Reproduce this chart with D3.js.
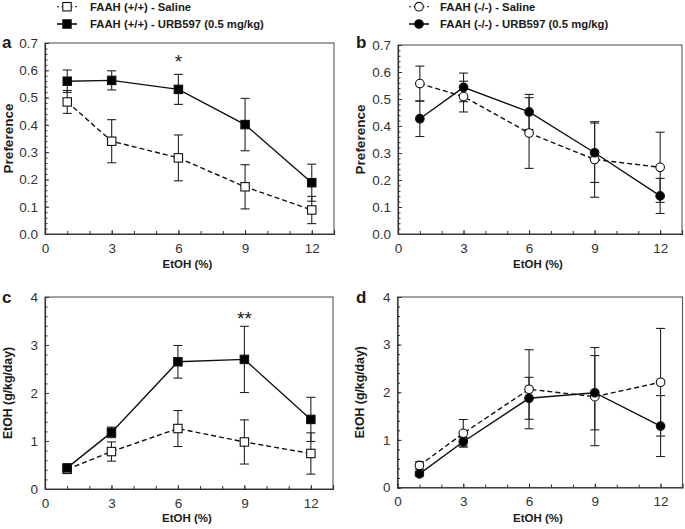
<!DOCTYPE html>
<html>
<head>
<meta charset="utf-8">
<script src="https://cdn.jsdelivr.net/npm/d3@7"></script>
<style>
  html, body { margin: 0; padding: 0; background: #fff; }
  svg { display: block; }
  text { font-family: "Liberation Sans", Arial, Helvetica, sans-serif; }
</style>
</head>
<body>
<svg id="chart" width="685" height="529"></svg>
<script>
// ---------------- data ----------------
const ethanolPct = [1, 3, 6, 9, 12];
const xTickLabels = [0, 3, 6, 9, 12];
const prefTickLabels = [0, 0.1, 0.2, 0.3, 0.4, 0.5, 0.6, 0.7];
const intakeTickLabels = [0, 1, 2, 3, 4];

// panel a: FAAH (+/+) preference
const prefWTSaline    = [0.484, 0.340, 0.279, 0.173, 0.088];
const prefWTSalineErr = [0.042, 0.079, 0.084, 0.081, 0.050];
const prefWTUrb       = [0.560, 0.563, 0.530, 0.401, 0.188];
const prefWTUrbErr    = [0.041, 0.035, 0.055, 0.096, 0.068];

// panel b: FAAH (-/-) preference
const prefKOSaline    = [0.557, 0.509, 0.374, 0.276, 0.247];
const prefKOSalineErr = [0.065, 0.057, 0.131, 0.140, 0.130];
const prefKOUrb       = [0.427, 0.543, 0.452, 0.301, 0.141];
const prefKOUrbErr    = [0.066, 0.053, 0.065, 0.110, 0.065];

// panel c: FAAH (+/+) intake (g/kg/day)
const intakeWTSaline    = [0.41, 0.78, 1.26, 0.98, 0.74];
const intakeWTSalineErr = [0.05, 0.20, 0.375, 0.46, 0.43];
const intakeWTUrb       = [0.44, 1.18, 2.65, 2.70, 1.45];
const intakeWTUrbErr    = [0.05, 0.11, 0.34, 0.69, 0.46];

// panel d: FAAH (-/-) intake (g/kg/day)
const intakeKOSaline    = [0.463, 1.137, 2.063, 1.908, 2.21];
const intakeKOSalineErr = [0.08, 0.29, 0.83, 1.03, 1.13];
const intakeKOUrb       = [0.287, 0.96, 1.873, 1.99, 1.29];
const intakeKOUrbErr    = [0.05, 0.09, 0.44, 0.78, 0.64];

const legendWT = ["FAAH (+/+) - Saline", "FAAH (+/+) - URB597 (0.5 mg/kg)"];
const legendKO = ["FAAH (-/-) - Saline", "FAAH (-/-) - URB597 (0.5 mg/kg)"];

const sigA = { x: 6, y: 0.644, label: "*" };
const sigC = { x: 9, y: 3.62, label: "**" };

// ---------------- drawing ----------------
const svg = d3.select("#chart");
const INK = "#1a1a1a";
const AXIS = "#333";

function zipSeries(vals, errs) {
  return ethanolPct.map((x, i) => ({ x, y: vals[i], e: errs[i] }));
}

function drawPanel(cfg) {
  const x = d3.scaleLinear().domain([0, 13]).range([cfg.left, cfg.right]);
  const y = d3.scaleLinear().domain(cfg.yDomain).range([cfg.bottom, cfg.top]);
  const g = svg.append("g");

  // frame
  g.append("rect")
    .attr("x", cfg.left).attr("y", cfg.top)
    .attr("width", cfg.right - cfg.left).attr("height", cfg.bottom - cfg.top)
    .attr("fill", "none").attr("stroke", "#555").attr("stroke-width", 1.1);

  // minor y ticks
  const yMinor = d3.range(cfg.yDomain[0], cfg.yDomain[1] + 1e-9, cfg.yMinorStep);
  g.append("g")
    .attr("transform", `translate(${cfg.left},0)`)
    .call(d3.axisLeft(y).tickValues(yMinor).tickSize(-2.5).tickFormat(""))
    .call(s => s.select(".domain").remove())
    .selectAll("line").attr("stroke", AXIS);

  // major y ticks
  const yAx = g.append("g")
    .attr("transform", `translate(${cfg.left},0)`)
    .call(d3.axisLeft(y).tickValues(cfg.yTicks).tickSize(-4).tickPadding(7)
      .tickFormat(cfg.yFormat));
  yAx.select(".domain").attr("stroke", AXIS).attr("stroke-width", 1.2);
  yAx.selectAll("line").attr("stroke", AXIS);
  yAx.selectAll("text").attr("font-size", 13.5).attr("fill", "#333")
    .attr("font-family", "Liberation Sans, Arial, sans-serif");

  // minor x ticks
  g.append("g")
    .attr("transform", `translate(0,${cfg.bottom})`)
    .call(d3.axisBottom(x).tickValues(d3.range(1, 13)).tickSize(-3).tickFormat(""))
    .call(s => s.select(".domain").remove())
    .selectAll("line").attr("stroke", AXIS);

  const xAx = g.append("g")
    .attr("transform", `translate(0,${cfg.bottom})`)
    .call(d3.axisBottom(x).tickValues(xTickLabels).tickSize(-4).tickPadding(9));
  xAx.select(".domain").attr("stroke", AXIS).attr("stroke-width", 1.2);
  xAx.selectAll("line").attr("stroke", AXIS);
  xAx.selectAll("text").attr("font-size", 13.5).attr("fill", "#333")
    .attr("font-family", "Liberation Sans, Arial, sans-serif");

  // axis titles
  g.append("text")
    .attr("x", (cfg.left + x(13)) / 2 - 2).attr("y", cfg.xTitleY)
    .attr("text-anchor", "middle").attr("font-size", 11.5).attr("font-weight", "bold")
    .attr("fill", INK).text("EtOH (%)");
  g.append("text")
    .attr("transform", `translate(${cfg.yTitleX},${(cfg.top + cfg.bottom) / 2}) rotate(-90)`)
    .attr("text-anchor", "middle").attr("dominant-baseline", "central")
    .attr("font-size", cfg.yTitleSize).attr("font-weight", "bold")
    .attr("fill", INK).text(cfg.yTitle);

  // panel letter
  g.append("text")
    .attr("x", cfg.letterX).attr("y", cfg.letterY)
    .attr("font-size", 17).attr("font-weight", "bold").attr("fill", INK)
    .text(cfg.letter);

  const line = d3.line().x(d => x(d.x)).y(d => y(d.y));

  cfg.series.forEach(s => {
    const data = s.data;
    // error bars
    const eb = g.append("g").attr("stroke", "#222").attr("stroke-width", 1.1);
    data.forEach(d => {
      eb.append("line").attr("x1", x(d.x)).attr("x2", x(d.x))
        .attr("y1", y(d.y - d.e)).attr("y2", y(d.y + d.e));
      [d.y - d.e, d.y + d.e].forEach(v => {
        eb.append("line").attr("x1", x(d.x) - 4.5).attr("x2", x(d.x) + 4.5)
          .attr("y1", y(v)).attr("y2", y(v));
      });
    });
    g.append("path").datum(data)
      .attr("d", line).attr("fill", "none").attr("stroke", "#111")
      .attr("stroke-width", 1.4)
      .attr("stroke-dasharray", s.dashed ? "5,3" : null);
  });

  cfg.series.forEach(s => {
    s.data.forEach(d => drawMarker(g, x(d.x), y(d.y), s.shape, s.filled));
  });

  if (cfg.sig) {
    g.append("text")
      .attr("x", x(cfg.sig.x)).attr("y", y(cfg.sig.y) + 10)
      .attr("text-anchor", "middle").attr("font-size", 19).attr("fill", INK)
      .text(cfg.sig.label);
  }
}

function drawMarker(g, cx, cy, shape, filled) {
  if (shape === "square") {
    g.append("rect").attr("x", cx - 4.2).attr("y", cy - 4.2)
      .attr("width", 8.4).attr("height", 8.4)
      .attr("fill", filled ? "#000" : "#fff").attr("stroke", "#111").attr("stroke-width", 1.1);
  } else {
    g.append("circle").attr("cx", cx).attr("cy", cy).attr("r", 4.3)
      .attr("fill", filled ? "#000" : "#fff").attr("stroke", "#111").attr("stroke-width", 1.1);
  }
}

function drawLegend(x0, textX, labels, shape) {
  const rows = [6.7, 24];
  rows.forEach((ry, i) => {
    const dashed = i === 0;
    svg.append("line").attr("x1", x0 - 10).attr("x2", x0 + 10)
      .attr("y1", ry).attr("y2", ry).attr("stroke", "#111")
      .attr("stroke-width", dashed ? 1.1 : 1.6)
      .attr("stroke-dasharray", dashed ? "2,2.5" : null);
    drawMarker(svg, x0, ry, shape, !dashed);
    svg.append("text").attr("x", textX).attr("y", ry)
      .attr("dominant-baseline", "central")
      .attr("font-size", 11.3).attr("font-weight", "bold").attr("fill", INK)
      .text(labels[i]);
  });
}

const prefFmt = d3.format(".1f");
const intFmt = d3.format("d");

drawPanel({
  letter: "a", letterX: 2, letterY: 48,
  left: 45, right: 334, top: 43, bottom: 234,
  yDomain: [0, 0.7], yTicks: prefTickLabels, yMinorStep: 0.02, yFormat: prefFmt,
  yTitle: "Preference", yTitleX: 8, yTitleSize: 13.5, xTitleY: 268,
  series: [
    { data: zipSeries(prefWTSaline, prefWTSalineErr), shape: "square", filled: false, dashed: true },
    { data: zipSeries(prefWTUrb, prefWTUrbErr), shape: "square", filled: true, dashed: false }
  ],
  sig: sigA
});

drawPanel({
  letter: "b", letterX: 356, letterY: 48,
  left: 398, right: 682, top: 45, bottom: 234,
  yDomain: [0, 0.7], yTicks: prefTickLabels, yMinorStep: 0.02, yFormat: prefFmt,
  yTitle: "Preference", yTitleX: 360, yTitleSize: 13.5, xTitleY: 268,
  series: [
    { data: zipSeries(prefKOSaline, prefKOSalineErr), shape: "circle", filled: false, dashed: true },
    { data: zipSeries(prefKOUrb, prefKOUrbErr), shape: "circle", filled: true, dashed: false }
  ]
});

drawPanel({
  letter: "c", letterX: 2, letterY: 303,
  left: 45, right: 333, top: 297, bottom: 489,
  yDomain: [0, 4], yTicks: intakeTickLabels, yMinorStep: 0.2, yFormat: intFmt,
  yTitle: "EtOH (g/kg/day)", yTitleX: 8, yTitleSize: 12.3, xTitleY: 522,
  series: [
    { data: zipSeries(intakeWTSaline, intakeWTSalineErr), shape: "square", filled: false, dashed: true },
    { data: zipSeries(intakeWTUrb, intakeWTUrbErr), shape: "square", filled: true, dashed: false }
  ],
  sig: sigC
});

drawPanel({
  letter: "d", letterX: 356, letterY: 303,
  left: 397.5, right: 682.5, top: 297, bottom: 487.5,
  yDomain: [0, 4], yTicks: intakeTickLabels, yMinorStep: 0.2, yFormat: intFmt,
  yTitle: "EtOH (g/kg/day)", yTitleX: 360, yTitleSize: 12.3, xTitleY: 522,
  series: [
    { data: zipSeries(intakeKOSaline, intakeKOSalineErr), shape: "circle", filled: false, dashed: true },
    { data: zipSeries(intakeKOUrb, intakeKOUrbErr), shape: "circle", filled: true, dashed: false }
  ]
});

drawLegend(67, 90, legendWT, "square");
drawLegend(419, 440, legendKO, "circle");
</script>
</body>
</html>
